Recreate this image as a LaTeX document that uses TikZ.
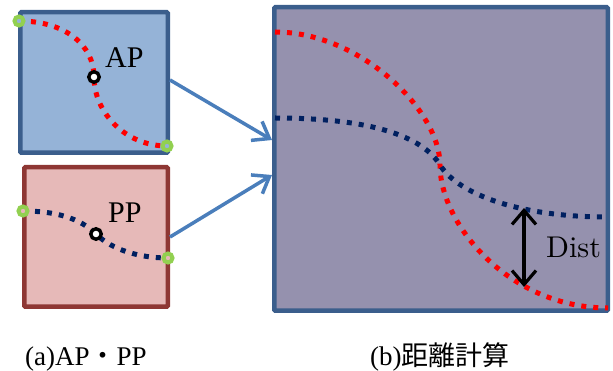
\documentclass[tikz,border=0pt]{standalone}
\usepackage{fontspec}
\usetikzlibrary{arrows.meta}
\newfontfamily\timesfont{Liberation Serif}
\newfontfamily\jpfont{Noto Sans CJK JP}
\newfontfamily\cmfont{lmroman10-regular}[Extension=.otf]
\definecolor{apfill}{HTML}{95B3D7}
\definecolor{apline}{HTML}{3B5E8C}
\definecolor{ppfill}{HTML}{E6B9B8}
\definecolor{ppline}{HTML}{8E3734}
\definecolor{distfill}{HTML}{9591AE}
\definecolor{arrowblue}{HTML}{4A7EBB}
\definecolor{navy}{HTML}{002060}
\definecolor{endgreen}{HTML}{92D050}
\begin{document}
\begin{tikzpicture}[x=1pt,y=-1pt,
  panel/.style={draw, line width=4.5pt, rounded corners=1pt, inner sep=0pt},
  track/.style={line width=5pt, dash pattern=on 5pt off 7pt},
  endpt/.style={circle, draw=endgreen, line width=4pt, minimum size=9pt, inner sep=0pt},
  midpt/.style={circle, draw=black, fill=white, line width=3.4pt, minimum size=10.5pt, inner sep=0pt},
  feed/.style={arrowblue, line width=3.5pt, -{Straight Barb[length=15pt,width=22pt]}},
  label/.style={inner sep=0pt, anchor=base west}]
\useasboundingbox (0,0) rectangle (613,371);
% panels
\node[panel, draw=apline, fill=apfill, minimum width=147.5pt, minimum height=140.5pt] (ap) at (94,82.5) {};
\node[panel, draw=ppline, fill=ppfill, minimum width=143.5pt, minimum height=139.5pt] (pp) at (96,237) {};
\node[panel, draw=apline, fill=distfill, minimum width=333.5pt, minimum height=303.5pt] (dist) at (441,159) {};
% AP / PP tracks
\draw[track, red] (19,21) .. controls (65,21) and (94,45) .. (94,77) .. controls (94,112) and (125,146) .. (167,146);
\draw[track, navy] (23,211) .. controls (55,211) and (80,218) .. (96,234) .. controls (112,250) and (140,258) .. (168,258);
\node[endpt, fill=apfill] (a1) at (19,21) {};
\node[endpt, fill=apfill] (a2) at (167,146) {};
\node[midpt] (am) at (94,77) {};
\node[endpt, fill=ppfill] (p1) at (23,211) {};
\node[endpt, fill=ppfill] (p2) at (168,258) {};
\node[midpt] (pm) at (96,234) {};
\node[label] (aplabel) at (105,68) {\timesfont\fontsize{30}{36}\selectfont AP};
\node[label] (pplabel) at (108,223) {\timesfont\fontsize{30}{36}\selectfont PP};
% both tracks together
\draw[track, red] (275,32) .. controls (360,32) and (440,110) .. (440,165) .. controls (440,225) and (510,308) .. (608,308);
\draw[track, navy] (275,118) .. controls (380,118) and (425,140) .. (440,165) .. controls (455,190) and (510,217) .. (608,217);
% arrows
\draw[feed] (ap.east |- 0,80) -- ([yshift=19pt]dist.west);
\draw[feed] (pp.east) -- ([yshift=-16pt]dist.west);
\coordinate (d1) at (524,208);
\coordinate (d2) at (524,287);
\draw[line width=3.2pt, {Straight Barb[length=14pt,width=24pt]}-{Straight Barb[length=14pt,width=24pt]}] (d1) -- (d2);
\node[label] (distlabel) at (546,258) {\cmfont\fontsize{30}{36}\selectfont Dist};
% captions
\node[label] (capa) at (25,365) {\timesfont\fontsize{27}{32}\selectfont (a)AP{\jpfont ・}PP};
\node[label] (capb) at (370,365) {\timesfont\fontsize{27}{32}\selectfont (b){\jpfont 距離計算}};
\end{tikzpicture}
\end{document}
